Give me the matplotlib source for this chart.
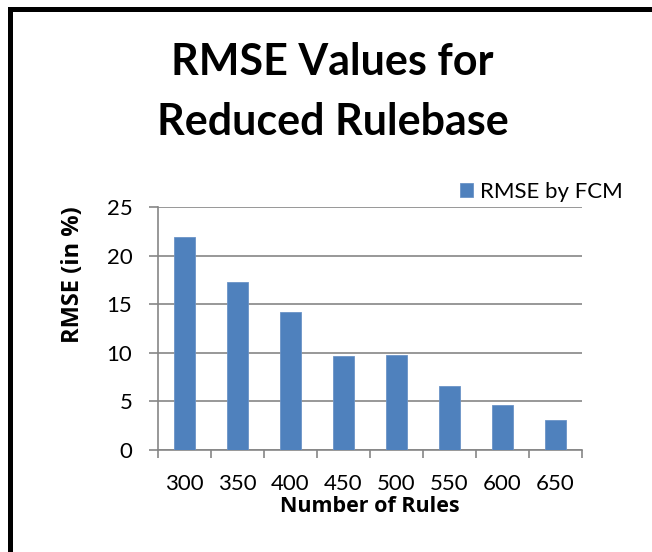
import matplotlib.pyplot as plt
import matplotlib.patches as patches
import numpy as np

plt.rcParams['font.family'] = ['Lato', 'DejaVu Sans']

# data
rules = ['300', '350', '400', '450', '500', '550', '600', '650']
rmse = [21.9, 17.3, 14.2, 9.7, 9.8, 6.6, 4.6, 3.1]

x = np.arange(len(rules))
bar_color = '#4F81BD'
grid_color = '#868686'

fig = plt.figure(figsize=(6.52, 5.52), dpi=100)
ax = fig.add_axes([0.2423, 0.1848, 0.650, 0.440])

bars = ax.bar(x, rmse, width=0.4, color=bar_color, edgecolor='#6b93c7',
              linewidth=0.6, label='RMSE by FCM', zorder=3)

ax.set_xlim(-0.5, len(rules) - 0.5)
ax.set_ylim(0, 25)
ax.set_yticks(range(0, 26, 5))
ax.yaxis.grid(True, color=grid_color, linewidth=1.2, zorder=0)

# x ticks sit between categories, labels under bars
ax.set_xticks(np.arange(-0.5, len(rules)), minor=False)
ax.set_xticklabels([])
ax.set_xticks(x, minor=True)
ax.set_xticklabels(rules, minor=True)
ax.tick_params(axis='x', which='major', length=6, color=grid_color, width=1.2,
               direction='out')
ax.tick_params(axis='x', which='minor', length=0, pad=17, labelsize=16)
ax.tick_params(axis='y', length=6.5, color=grid_color, width=1.2, labelsize=16,
               pad=12)

for side in ['top', 'right']:
    ax.spines[side].set_visible(False)
for side in ['left', 'bottom']:
    ax.spines[side].set_color(grid_color)
    ax.spines[side].set_linewidth(1.2)

ax.set_xlabel('Number of Rules', fontsize=15.5, fontweight='bold',
              family='Open Sans')
ax.set_ylabel('RMSE (in %)', fontsize=17, fontweight='bold',
              family='Open Sans')
ax.xaxis.set_label_coords(0.501, -0.19)
ax.yaxis.set_label_coords(-0.172, 0.72)

fig.text(0.510, 0.833, 'RMSE Values for\nReduced Rulebase', ha='center',
         va='center', fontsize=31, fontweight='bold', linespacing=1.6)

fig.legend(handles=[bars], labels=['RMSE by FCM'], loc='center left',
           bbox_to_anchor=(0.705, 0.653), frameon=False, fontsize=16,
           handlelength=0.6, handleheight=0.6, handletextpad=0.3,
           borderaxespad=0, borderpad=0)

# outer frame, right and bottom edges run off the picture
fig.patches.append(patches.Rectangle((0.0146, -0.1), 1.1, 1.0846,
                                     transform=fig.transFigure, fill=False,
                                     edgecolor='black', linewidth=3.6))

fig.savefig('out.png', dpi=100)
